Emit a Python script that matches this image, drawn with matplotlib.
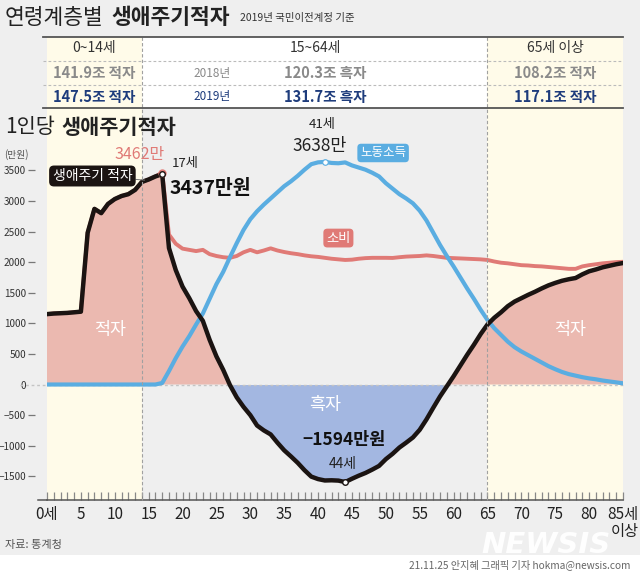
import matplotlib
matplotlib.use("Agg")
import matplotlib.pyplot as plt
import matplotlib.transforms as mtransforms
from matplotlib.lines import Line2D
from matplotlib.patches import Rectangle
import numpy as np

plt.rcParams["font.family"] = ["Noto Sans CJK KR", "DejaVu Sans"]
plt.rcParams["axes.unicode_minus"] = False

# ---------------- data ----------------
ages = list(range(0, 86))
consumption = [
    1150, 1160, 1165, 1170, 1180, 1190, 2480, 2870, 2800, 2950,
    3030, 3080, 3110, 3180, 3310, 3350, 3400, 3462, 2450, 2300,
    2220, 2200, 2180, 2200, 2130, 2100, 2080, 2070, 2100, 2160,
    2200, 2160, 2190, 2225, 2190, 2165, 2145, 2130, 2110, 2095,
    2085, 2070, 2055, 2045, 2035, 2040, 2055, 2065, 2070, 2070,
    2070, 2068, 2080, 2090, 2095, 2100, 2110, 2100, 2085, 2070,
    2065, 2060, 2055, 2050, 2045, 2035, 2010, 1990, 1980, 1965,
    1950, 1945, 1935, 1930, 1920, 1910, 1900, 1890, 1890, 1930,
    1950, 1965, 1980, 1990, 2000, 2005]
labor_income = [
    0, 0, 0, 0, 0, 0, 0, 0, 0, 0,
    0, 0, 0, 0, 0, 0, 0, 25, 220, 430,
    620, 790, 980, 1160, 1400, 1640, 1840, 2080, 2310, 2525,
    2700, 2830, 2940, 3040, 3140, 3240, 3320, 3410, 3510, 3600,
    3630, 3638, 3620, 3615, 3629, 3580, 3545, 3510, 3460, 3400,
    3290, 3200, 3110, 3040, 2960, 2840, 2680, 2480, 2280, 2100,
    1930, 1750, 1570, 1400, 1220, 1055, 920, 810, 700, 610,
    540, 480, 420, 360, 300, 250, 205, 170, 145, 120,
    100, 85, 65, 50, 35, 20]
lifecycle_deficit = [
    1150, 1160, 1165, 1170, 1180, 1190, 2480, 2870, 2800, 2950,
    3030, 3080, 3110, 3180, 3310, 3350, 3400, 3437, 2230, 1870,
    1600, 1410, 1200, 1040, 730, 460, 240, -10, -210, -365,
    -500, -670, -750, -815, -950, -1075, -1175, -1280, -1400, -1505,
    -1545, -1568, -1565, -1570, -1594, -1540, -1490, -1445, -1390, -1330,
    -1220, -1132, -1030, -950, -865, -740, -570, -380, -195, -30,
    135, 310, 485, 650, 825, 980, 1090, 1180, 1280, 1355,
    1410, 1465, 1515, 1570, 1620, 1660, 1695, 1720, 1740, 1800,
    1850, 1880, 1915, 1940, 1965, 1985]

x_ticks = list(range(0, 86, 5))
x_tick_labels = ["0세", "5", "10", "15", "20", "25", "30", "35", "40", "45",
                 "50", "55", "60", "65", "70", "75", "80", "85세\n이상"]
y_ticks = [-1500, -1000, -500, 0, 500, 1000, 1500, 2000, 2500, 3000, 3500]
y_tick_labels = ["−1500", "−1000", "−500", "0", "500", "1000", "1500",
                 "2000", "2500", "3000", "3500"]

group_bounds = [0, 14, 65, 85]
age_groups = ["0~14세", "15~64세", "65세 이상"]
years = ["2018년", "2019년"]
totals_2018 = ["141.9조 적자", "120.3조 흑자", "108.2조 적자"]
totals_2019 = ["147.5조 적자", "131.7조 흑자", "117.1조 적자"]

# ---------------- style ----------------
W, H = 640, 573
BG = "#EFEFEF"
YELLOW = "#FFFBE9"
PINK = "#EBB9B0"
BLUEFILL = "#A3B7E1"
RED = "#E07A76"
BLUE = "#5AADE1"
BLACK = "#1B1412"
NAVY = "#1E3C7C"
GRAY = "#8A8A8A"


def fx(px):
    return px / W


def fy(py):
    return 1 - py / H


fig = plt.figure(figsize=(6.4, 5.73), dpi=100, facecolor=BG)
renderer = fig.canvas.get_renderer()

ax = fig.add_axes([fx(47), fy(500), fx(623) - fx(47), fy(108) - fy(500)])
ax.set_xlim(0, 85)
ax.set_ylim(-1887, 4518)
ax.patch.set_alpha(0)

blend = mtransforms.blended_transform_factory(ax.transData, fig.transFigure)

# bottom white strip
fig.patches.append(Rectangle((0, 0), 1, fy(555), transform=fig.transFigure,
                             fc="white", ec="none", zorder=-5))

# yellow shading in chart (0-14, 65-85)
ax.axvspan(group_bounds[0], group_bounds[1], color=YELLOW, zorder=0, lw=0)
ax.axvspan(group_bounds[2], group_bounds[3], color=YELLOW, zorder=0, lw=0)

# table background
tab_top, tab_bot = fy(37), fy(108)
for i in range(3):
    c = "white" if i == 1 else YELLOW
    fig.patches.append(Rectangle((group_bounds[i], tab_bot),
                                 group_bounds[i + 1] - group_bounds[i],
                                 tab_top - tab_bot, transform=blend,
                                 fc=c, ec="none", zorder=-1))
for yy, col, lw, ls in [(37, "#555555", 1.3, "-"), (108, "#555555", 1.3, "-"),
                        (61, "#BBBBBB", 0.8, (0, (2.5, 2))),
                        (85, "#BBBBBB", 0.8, (0, (2.5, 2)))]:
    fig.lines.append(Line2D([fx(43), fx(623)], [fy(yy), fy(yy)],
                            transform=fig.transFigure, color=col, lw=lw, ls=ls))
for b in group_bounds[1:3]:
    fig.lines.append(Line2D([b, b], [fy(37), fy(500)], transform=blend,
                            color="#A0A0A0", lw=0.8, ls=(0, (3, 2)), zorder=1.5))

centers = [7, 39.6, 75]
val_centers = [7, 41.0, 75]
for i in range(3):
    fig.text(centers[i], fy(48), age_groups[i], transform=blend, ha="center",
             va="center", size=10, color="#333333")
    fig.text(val_centers[i], fy(73), totals_2018[i], transform=blend, ha="center",
             va="center", size=10.5, color=GRAY, weight="bold")
    fig.text(val_centers[i], fy(97), totals_2019[i], transform=blend, ha="center",
             va="center", size=10.5, color=NAVY, weight="bold")
fig.text(24.4, fy(73), years[0], transform=blend, ha="center", va="center",
         size=8.5, color=GRAY)
fig.text(24.4, fy(97), years[1], transform=blend, ha="center", va="center",
         size=8.5, color=NAVY)


def text_run(parts, x0, y, va="center"):
    x = x0
    for s, size, weight, color, gap in parts:
        t = fig.text(fx(x), fy(y), s, size=size, weight=weight, color=color,
                     ha="left", va=va)
        bb = t.get_window_extent(renderer)
        x = bb.x1 + gap


# titles
text_run([("연령계층별", 15.5, "normal", "#222222", 8),
          ("생애주기적자", 15.5, "bold", "#222222", 10),
          ("2019년 국민이전계정 기준", 7.5, "normal", "#333333", 0)], 5, 18)
text_run([("1인당", 15, "normal", "#222222", 7),
          ("생애주기적자", 15, "bold", "#222222", 0)], 5, 127)
fig.text(fx(4), fy(155), "(만원)", size=7, color="#555555", va="center")
fig.text(fx(5), fy(545), "자료: 통계청", size=8, color="#555555", va="center")
fig.text(fx(630), fy(565), "21.11.25 안지혜 그래픽 기자 hokma@newsis.com",
         size=7.3, color="#666666", va="center", ha="right")
fig.text(fx(546), fy(545), "NEWSIS", size=21, weight="heavy", style="italic",
         color="white", ha="center", va="center", family="DejaVu Sans", alpha=0.95,
         zorder=0)

# ---------------- data drawing ----------------
x = np.array(ages)
d = np.array(lifecycle_deficit)
ax.fill_between(x, d, 0, where=d >= 0, interpolate=True, color=PINK, lw=0, zorder=1)
ax.fill_between(x, d, 0, where=d <= 0, interpolate=True, color=BLUEFILL, lw=0, zorder=1)
ax.axhline(0, xmin=-0.047, xmax=1, color="#C4C4C4", lw=1, ls=(0, (2, 2)),
           clip_on=False, zorder=2)

ax.plot(ages, consumption, color=RED, lw=2.8, zorder=3, solid_joinstyle="round")
ax.plot(ages, labor_income, color=BLUE, lw=3, zorder=3.5, solid_joinstyle="round",
        solid_capstyle="round")
ax.plot(ages, lifecycle_deficit, color=BLACK, lw=3.2, zorder=4,
        solid_joinstyle="round", solid_capstyle="round")

# markers
i17, i41, i44 = ages.index(17), ages.index(41), ages.index(44)
ax.plot(17, consumption[i17], "o", ms=5, color=RED, zorder=4.5)
ax.plot(17, lifecycle_deficit[i17], "o", ms=4, mfc="white", mec=BLACK, mew=1, zorder=5)
ax.plot(41, labor_income[i41], "o", ms=4, mfc="white", mec=BLUE, mew=0.8, zorder=5)
ax.plot(44, lifecycle_deficit[i44], "o", ms=4, mfc="white", mec=BLACK, mew=1, zorder=5)

# annotations
ax.annotate(f"{consumption[i17]}만", xy=(17, consumption[i17]), xytext=(-16, 7),
            textcoords="offset points", ha="center", va="bottom", size=11.5,
            color=RED, zorder=6)
ax.annotate("17세", xy=(17, lifecycle_deficit[i17]), xytext=(7, 8),
            textcoords="offset points", ha="left", va="center", size=9.5,
            color="#222222", zorder=6)
ax.annotate(f"{lifecycle_deficit[i17]}만원", xy=(17, lifecycle_deficit[i17]),
            xytext=(5, -10), textcoords="offset points", ha="left", va="center",
            size=14, color="#111111", weight="bold", zorder=6)
ax.annotate("생애주기 적자", xy=(14.4, 3340), xytext=(6.7, 3407),
            ha="center", va="center", size=10, color="white", zorder=6,
            bbox=dict(boxstyle="round,pad=0.25,rounding_size=0.35", fc=BLACK, ec="none"),
            arrowprops=dict(arrowstyle="-", color="#777777", lw=0.7,
                            shrinkA=0, shrinkB=0))
ax.annotate("41세", xy=(41, labor_income[i41]), xytext=(-2, 27),
            textcoords="offset points", ha="center", va="center", size=9.5,
            color="#222222", zorder=6)
ax.annotate(f"{labor_income[i41]}만", xy=(41, labor_income[i41]), xytext=(-4, 11.5),
            textcoords="offset points", ha="center", va="center", size=12.5,
            color="#222222", zorder=6)
ax.text(49.6, 3783, "노동소득", ha="center", va="center", size=9, color="white",
        zorder=6, bbox=dict(boxstyle="round,pad=0.22,rounding_size=0.3", fc=BLUE, ec="none"))
ax.text(43.0, 2393, "소비", ha="center", va="center", size=9.5, color="white",
        zorder=6, bbox=dict(boxstyle="round,pad=0.22,rounding_size=0.3", fc=RED,
                            ec="none"), linespacing=1)
ax.text(9.3, 890, "적자", ha="center", va="center", size=12.5, color="white", zorder=6)
ax.text(77.2, 890, "적자", ha="center", va="center", size=12.5, color="white", zorder=6)
ax.text(41.0, -335, "흑자", ha="center", va="center", size=12.5, color="white", zorder=6)
ax.annotate(f"−{abs(lifecycle_deficit[i44])}만원", xy=(44, lifecycle_deficit[i44]),
            xytext=(-1, 30), textcoords="offset points", ha="center", va="center",
            size=12.5, weight="bold", color="#111111", zorder=6)
ax.annotate("44세", xy=(44, lifecycle_deficit[i44]), xytext=(-2, 13),
            textcoords="offset points", ha="center", va="center", size=10,
            color="#222222", zorder=6)

# ---------------- axes ----------------
for s in ["top", "right"]:
    ax.spines[s].set_visible(False)
ax.spines["left"].set_position(("outward", 9))
ax.spines["left"].set_color("none")
ax.spines["bottom"].set_color("#555555")
ax.spines["bottom"].set_linewidth(1.1)
ax.axhline(ax.get_ylim()[0], xmin=-9 / 576, xmax=0, color="#555555", lw=1.1,
           clip_on=False)

ax.set_yticks(y_ticks)
ax.set_yticklabels(y_tick_labels)
ax.tick_params(axis="y", direction="out", length=5, width=0.9, color="#777777",
               pad=1.0, labelsize=7.2, labelcolor="#333333")
for t, v in zip(ax.yaxis.get_major_ticks(), y_ticks):
    if v == 0:
        t.tick1line.set_visible(False)

ax.set_xticks(x_ticks)
ax.set_xticklabels(x_tick_labels, linespacing=1.0)
ax.set_xticks(ages, minor=True)
ax.tick_params(axis="x", which="both", direction="in", length=6, width=0.9,
               color="#888888")
ax.tick_params(axis="x", which="major", pad=4, labelsize=11, labelcolor="#222222")
for lbl in ax.get_xticklabels():
    lbl.set_multialignment("right")

fig.savefig("out.png", dpi=100, facecolor=BG)
